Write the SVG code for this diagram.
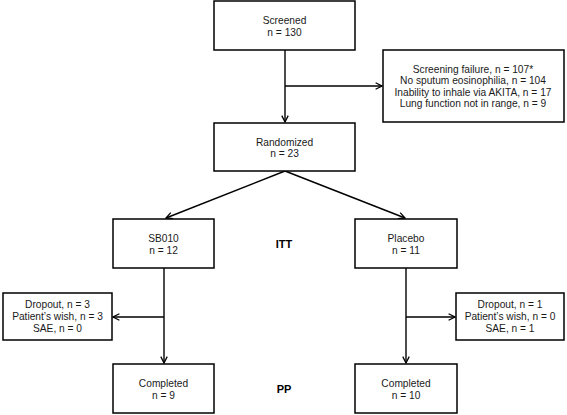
<svg xmlns="http://www.w3.org/2000/svg" width="567" height="415" viewBox="0 0 567 415">
<style>
.box{fill:#fff;stroke:#000;stroke-width:1.5}
.t{font-family:"Liberation Sans",Arial,sans-serif;font-size:10.2px;fill:#1a1a1a;text-anchor:middle}
.b{font-family:"Liberation Sans",Arial,sans-serif;font-size:11px;font-weight:bold;fill:#000;text-anchor:middle}
.c{fill:none;stroke:#000;stroke-width:1.4}
</style>
<defs>
<marker id="arr" viewBox="0 0 10 10" refX="9" refY="5" markerWidth="8" markerHeight="8" markerUnits="userSpaceOnUse" orient="auto">
<path d="M1,1 L9,5 L1,9" fill="none" stroke="#000" stroke-width="1.6"/>
</marker>
</defs>
<rect width="567" height="415" fill="#fff"/>
<g id="connectors">
<line class="c" x1="285" y1="50" x2="285" y2="122" marker-end="url(#arr)"/>
<line class="c" x1="285" y1="86" x2="382" y2="86" marker-end="url(#arr)"/>
<line class="c" x1="285" y1="171" x2="166" y2="218" marker-end="url(#arr)"/>
<line class="c" x1="285" y1="171" x2="405" y2="218" marker-end="url(#arr)"/>
<line class="c" x1="164" y1="268" x2="164" y2="363" marker-end="url(#arr)"/>
<line class="c" x1="164" y1="317" x2="113" y2="317" marker-end="url(#arr)"/>
<line class="c" x1="406" y1="268" x2="406" y2="363" marker-end="url(#arr)"/>
<line class="c" x1="406" y1="317" x2="455" y2="317" marker-end="url(#arr)"/>
</g>
<g id="screened">
<rect class="box" x="214" y="1" width="141" height="49"/>
<text class="t" x="284.5" y="23.5">Screened</text>
<text class="t" x="284.5" y="35.5">n = 130</text>
</g>
<g id="failure">
<rect class="box" x="383" y="50" width="181" height="72"/>
<text class="t" x="473" y="72.5">Screening failure, n = 107*</text>
<text class="t" x="473" y="84">No sputum eosinophilia, n = 104</text>
<text class="t" x="473" y="95.5">Inability to inhale via AKITA, n = 17</text>
<text class="t" x="473" y="107">Lung function not in range, n = 9</text>
</g>
<g id="randomized">
<rect class="box" x="214" y="123" width="141" height="48"/>
<text class="t" x="284.5" y="145.5">Randomized</text>
<text class="t" x="284.5" y="157">n = 23</text>
</g>
<g id="sb010">
<rect class="box" x="113" y="219" width="101" height="49"/>
<text class="t" x="163.5" y="241.5">SB010</text>
<text class="t" x="163.5" y="253.5">n = 12</text>
</g>
<g id="placebo">
<rect class="box" x="355" y="219" width="102" height="49"/>
<text class="t" x="406" y="241.5">Placebo</text>
<text class="t" x="406" y="253.5">n = 11</text>
</g>
<g id="itt"><text class="b" x="284" y="248">ITT</text></g>
<g id="dropout-left">
<rect class="box" x="3" y="293" width="109" height="47"/>
<text class="t" x="57.5" y="307.5">Dropout, n = 3</text>
<text class="t" x="57.5" y="319.5">Patient’s wish, n = 3</text>
<text class="t" x="57.5" y="331.5">SAE, n = 0</text>
</g>
<g id="dropout-right">
<rect class="box" x="456" y="293" width="108" height="47"/>
<text class="t" x="510" y="307.5">Dropout, n = 1</text>
<text class="t" x="510" y="319.5">Patient’s wish, n = 0</text>
<text class="t" x="510" y="331.5">SAE, n = 1</text>
</g>
<g id="completed-left">
<rect class="box" x="113" y="364" width="101" height="49"/>
<text class="t" x="163.5" y="386.5">Completed</text>
<text class="t" x="163.5" y="398.5">n = 9</text>
</g>
<g id="completed-right">
<rect class="box" x="355" y="364" width="102" height="49"/>
<text class="t" x="406" y="386.5">Completed</text>
<text class="t" x="406" y="398.5">n = 10</text>
</g>
<g id="pp"><text class="b" x="284" y="393">PP</text></g>
</svg>
